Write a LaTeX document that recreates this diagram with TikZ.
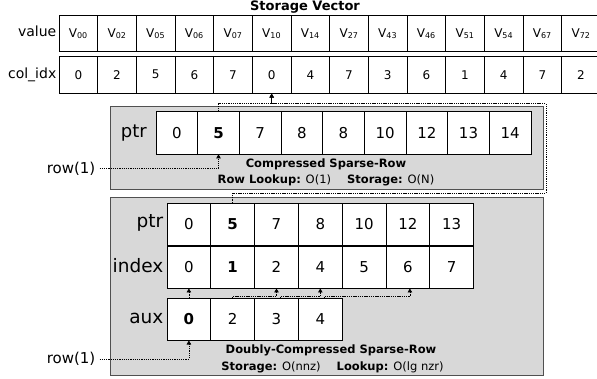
\documentclass[tikz,border=0pt]{standalone}
\usepackage{fontspec}
\setmainfont{DejaVu Sans}
\usetikzlibrary{arrows.meta}
\definecolor{boxfill}{HTML}{D8D8D8}
\definecolor{boxline}{HTML}{505050}
\begin{document}
\begin{tikzpicture}[x=1pt,y=-1pt,
  cell/.style={draw=black, fill=white, line width=0.8pt, inner sep=0pt, anchor=center},
  svcell/.style={cell, minimum width=38.67pt, minimum height=36pt, font=\fontsize{12}{14}\selectfont},
  csrcell/.style={cell, minimum width=41.67pt, minimum height=42.3pt, font=\fontsize{15}{17}\selectfont},
  dcell/.style={cell, minimum width=43.8pt, minimum height=41.8pt, font=\fontsize{15}{17}\selectfont},
  lbl/.style={anchor=east, inner sep=0pt, font=\fontsize{14}{16}\selectfont},
  rowlbl/.style={anchor=east, inner sep=0pt, font=\fontsize{15}{17}\selectfont},
  biglbl/.style={anchor=east, inner sep=0pt, font=\fontsize{18.5}{20}\selectfont},
  capt/.style={inner sep=0pt, font=\fontsize{11.5}{13}\selectfont},
  captb/.style={inner sep=0pt, font=\fontsize{11.5}{13}\selectfont\bfseries},
  panel/.style={draw=boxline, fill=boxfill, line width=1pt, inner sep=0pt},
  conn/.style={line width=0.7pt, dash pattern=on 1.3pt off 0.9pt, -{Triangle[length=4pt,width=4.5pt]}}
]
\useasboundingbox (0,0) rectangle (597,379);
\clip (0,0) rectangle (597,379);

% title
\node[inner sep=0pt, font=\fontsize{13}{15}\selectfont\bfseries] (title) at (305,7) {Storage Vector};

% storage vector
\node[lbl] (lv) at (56.5,31.5) {value};
\node[lbl] (lc) at (56.5,75) {col\_idx};
\foreach \v [count=\i from 0] in {00,02,05,06,07,10,14,27,43,46,51,54,67,72}
  \node[svcell] (v\i) at ({78.33+38.67*\i},33.7) {V\textsubscript{\v}};
\foreach \v [count=\i from 0] in {0,2,5,6,7,0,4,7,3,6,1,4,7,2}
  \node[svcell, minimum height=37pt] (c\i) at ({78.33+38.67*\i},74.7) {\v};

% CSR panel
\node[panel, minimum width=433pt, minimum height=83.3pt] (csr) at (326.5,148.35) {};
\node[biglbl, font=\fontsize{18}{20}\selectfont] (lp1) at (147,133) {ptr};
\foreach \v [count=\i from 0] in {0,\textbf{5},7,8,8,10,12,13,14}
  \node[csrcell] (p\i) at ({176.83+41.67*\i},132.8) {\v};
\node[captb] (csrt) at (326,164) {Compressed Sparse-Row};
\node[capt] (csrs) at (326,180) {\textbf{Row Lookup:} O(1)\hspace{16pt}\textbf{Storage:} O(N)};

% DCSR panel
\node[panel, minimum width=433pt, minimum height=177.3pt] (dcsr) at (326.5,286.35) {};
\node[biglbl] (lp2) at (163.5,223) {ptr};
\node[biglbl] (li) at (163.5,266) {index};
\node[biglbl] (la) at (163.5,318.5) {aux};
\foreach \v [count=\i from 0] in {0,\textbf{5},7,8,10,12,13}
  \node[dcell] (dp\i) at ({188.9+43.8*\i},224.2) {\v};
\foreach \v [count=\i from 0] in {0,\textbf{1},2,4,5,6,7}
  \node[dcell] (di\i) at ({188.9+43.8*\i},267.2) {\v};
\foreach \v [count=\i from 0] in {\textbf{0},2,3,4}
  \node[dcell] (da\i) at ({188.9+43.8*\i},319.2) {\v};
\node[captb] (dt) at (331,350) {Doubly-Compressed Sparse-Row};
\node[capt] (ds) at (332.5,367.3) {\textbf{Storage:} O(nnz)\hspace{16pt}\textbf{Lookup:} O(lg nzr)};

% row labels
\node[rowlbl] (r1) at (95.5,168.5) {row(1)};
\node[rowlbl] (r2) at (95.5,359) {row(1)};

% connectors
\coordinate (j1) at (546,193);
\coordinate (j2) at (546,103.5);
\draw[conn] (p1.north) -- (p1.north |- j2) -| (c5.south);
\draw[conn] (dp1.north) |- (j1) -- (j2) -| (c5.south);
\draw[conn] ([xshift=4pt]r1.east) -| (p1.south);
\draw[conn] ([xshift=4pt]r2.east) -| (da0.south);
\coordinate (h) at (0,296);
\draw[conn] (da0.north) -- (di0.south);
\draw[conn] (da1.north) -- (da1.north |- h) -| (di2.south);
\draw[conn] ([xshift=4pt]da2.north) -- ([xshift=4pt]da2.north |- h) -| (di3.south);
\draw[conn] ([xshift=4pt]da3.north) -- ([xshift=4pt]da3.north |- h) -| ([xshift=2pt]di5.south);
\end{tikzpicture}
\end{document}
